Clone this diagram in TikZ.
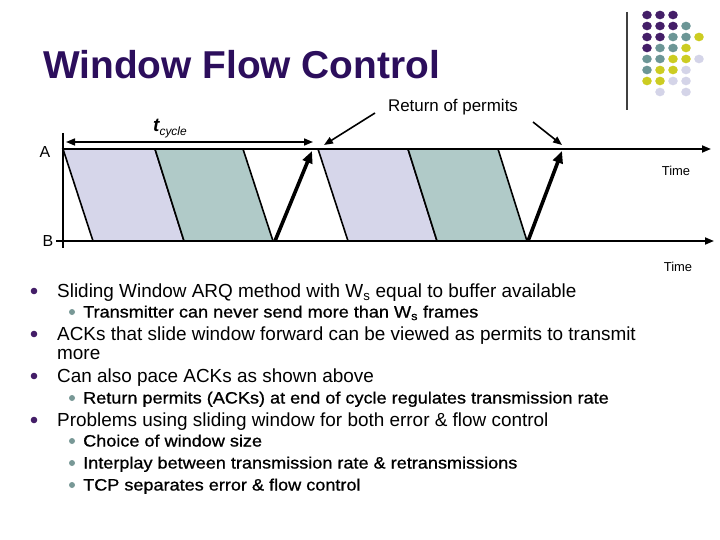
\documentclass[tikz,border=0pt]{standalone}
\usepackage{fontspec}
\setmainfont{Liberation Sans}
\newfontfamily\subfont[FakeStretch=1.1,FakeBold=0.9]{Liberation Sans}
\usetikzlibrary{arrows.meta}
\definecolor{tpurple}{RGB}{44,14,92}
\definecolor{dpurple}{RGB}{68,30,104}
\definecolor{dteal}{RGB}{108,150,150}
\definecolor{dyellow}{RGB}{204,204,34}
\definecolor{dlav}{RGB}{212,212,232}
\definecolor{flav}{RGB}{214,214,234}
\definecolor{fteal}{RGB}{176,202,200}
\definecolor{bteal}{RGB}{120,152,150}
\tikzset{
  axis/.style={line width=1.8bp, -{Triangle[length=9bp,width=7bp]}},
  frame/.style={draw=black, line width=1.6bp, line join=miter},
  ack/.style={line width=3.6bp, -{Triangle[length=12bp,width=10bp]}},
  thin arrow/.style={line width=1.6bp, -{Triangle[length=9bp,width=7bp]}},
  lbl/.style={inner sep=0, font=\fontsize{#1}{#1}\selectfont},
  l1/.style={anchor=base west, inner sep=0, font=\fontsize{19}{19}\selectfont},
  l2/.style={anchor=base west, inner sep=0, font=\subfont\fontsize{16.5}{17}\selectfont},
}
\begin{document}
\begin{tikzpicture}[x=1bp,y=-1bp]
\useasboundingbox (0,0) rectangle (720,540);
% decoration
\foreach \c/\r/\col in {0/0/dpurple,1/0/dpurple,2/0/dpurple,
  0/1/dpurple,1/1/dpurple,2/1/dpurple,3/1/dteal,
  0/2/dpurple,1/2/dpurple,2/2/dteal,3/2/dteal,4/2/dyellow,
  0/3/dpurple,1/3/dteal,2/3/dteal,3/3/dyellow,
  0/4/dteal,1/4/dteal,2/4/dyellow,3/4/dyellow,4/4/dlav,
  0/5/dteal,1/5/dyellow,2/5/dyellow,3/5/dlav,
  0/6/dyellow,1/6/dyellow,2/6/dlav,3/6/dlav,
  1/7/dlav,3/7/dlav}
  \fill[\col] (647+13*\c,15+11*\r) ellipse [x radius=4.8bp, y radius=4.3bp];
\coordinate (vt) at (627,12); \coordinate (vb) at (627,110);
\draw[line width=1.2bp, black!75] (vt) -- (vb);
% title
\node[anchor=base west, inner sep=0, text=tpurple, font=\fontsize{39}{39}\selectfont\bfseries] (title) at (43,78.5) {Window Flow Control};
% frames
\filldraw[fill=flav, frame] (63,149) -- (155,149) -- (184,241) -- (93,241) -- cycle;
\filldraw[fill=fteal, frame] (155,149) -- (243,149) -- (273,241) -- (184,241) -- cycle;
\filldraw[fill=flav, frame] (318,149) -- (408,149) -- (437,241) -- (348,241) -- cycle;
\filldraw[fill=fteal, frame] (408,149) -- (498,149) -- (527,241) -- (437,241) -- cycle;
% axes
\coordinate (axtop) at (63,133); \coordinate (axbot) at (63,248);
\coordinate (As) at (63,149); \coordinate (Ae) at (711,149);
\coordinate (Bs) at (56,241); \coordinate (Be) at (714,241);
\draw[line width=1.8bp] (axtop) -- (axbot);
\draw[axis] (As) -- (Ae);
\draw[axis] (Bs) -- (Be);
\node[lbl=16] (A) at (45,152) {A};
\node[lbl=16] (B) at (48,241) {B};
\node[lbl=13] (t1) at (676,171) {Time};
\node[lbl=13] (t2) at (678,267) {Time};
% acks
\coordinate (k1s) at (275,241); \coordinate (k1e) at (312,151);
\coordinate (k2s) at (528,241); \coordinate (k2e) at (562,151);
\draw[ack] (k1s) -- (k1e);
\draw[ack] (k2s) -- (k2e);
% t cycle
\coordinate (c1) at (66,142); \coordinate (c2) at (313,142);
\draw[line width=1.6bp, {Triangle[length=9bp,width=7bp]}-{Triangle[length=9bp,width=7bp]}] (c1) -- (c2);
\node[inner sep=0, font=\fontsize{19}{19}\selectfont\itshape] (tc) at (170,129) {\textbf{t}\raisebox{-4bp}{\fontsize{12}{12}\selectfont cycle}};
% return of permits
\node[lbl=17] (rp) at (453,107) {Return of permits};
\coordinate (r1s) at (375,113); \coordinate (r1e) at (324,145);
\coordinate (r2s) at (533,122); \coordinate (r2e) at (562,145);
\draw[thin arrow] (r1s) -- (r1e);
\draw[thin arrow] (r2s) -- (r2e);
% bullets
\foreach \y in {291,334,376,420} \fill[dpurple] (34,\y) circle [radius=3.3bp];
\foreach \y in {312,398,441,463,485} \fill[bteal] (72,\y) circle [radius=3bp];
\node[l1] (p1) at (57,297.5) {Sliding Window ARQ method with W\textsubscript{s} equal to buffer available};
\node[l2] (p1a) at (83,317.5) {Transmitter can never send more than W\textsubscript{s} frames};
\node[l1] (p2) at (57,340.5) {ACKs that slide window forward can be viewed as permits to transmit};
\node[l1] (p2b) at (57,359.5) {more};
\node[l1] (p3) at (57,382.5) {Can also pace ACKs as shown above};
\node[l2] (p3a) at (83,403.5) {Return permits (ACKs) at end of cycle regulates transmission rate};
\node[l1] (p4) at (57,426.5) {Problems using sliding window for both error \& flow control};
\node[l2] (p4a) at (83,446.5) {Choice of window size};
\node[l2] (p4b) at (83,468.5) {Interplay between transmission rate \& retransmissions};
\node[l2] (p4c) at (83,490.5) {TCP separates error \& flow control};
\end{tikzpicture}
\end{document}
